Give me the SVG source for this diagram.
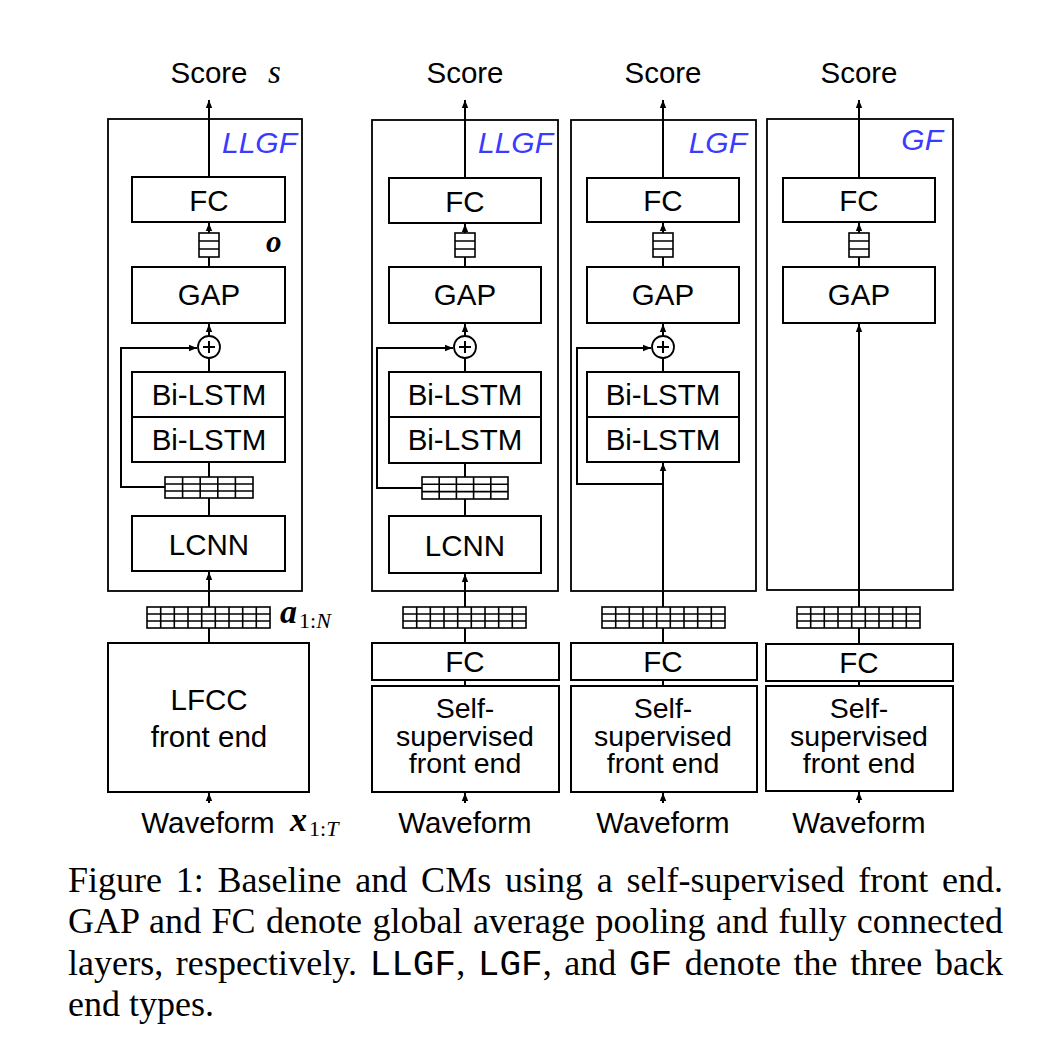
<svg xmlns="http://www.w3.org/2000/svg" width="1055" height="1040" viewBox="0 0 1055 1040">
<defs>
<marker id="ah" viewBox="0 0 10 10" refX="10" refY="5" markerWidth="8" markerHeight="8" markerUnits="userSpaceOnUse" orient="auto"><path d="M0,1 L10,5 L0,9 z" fill="#000"/></marker>
<style>
.box{fill:#fff;stroke:#000;stroke-width:2}
.outer{fill:none;stroke:#000;stroke-width:1.8}
.grid{fill:none;stroke:#000;stroke-width:1.6}
.cn{fill:none;stroke:#000;stroke-width:2}
.ar{fill:none;stroke:#000;stroke-width:2;marker-end:url(#ah)}
.t{font-family:"Liberation Sans",Arial,sans-serif;font-size:29.5px;fill:#000;text-anchor:middle}
.ss{font-size:28.5px}
.tag{font-family:"Liberation Sans",Arial,sans-serif;font-size:30px;font-style:italic;fill:#3b3bff;text-anchor:end}
.m{font-family:"Liberation Serif","Times New Roman",serif;fill:#000}
.it{font-style:italic}
.bi{font-style:italic;font-weight:bold}
.sub{font-size:22px;font-style:normal;font-weight:normal}
.cap{font-family:"Liberation Serif","Times New Roman",serif;font-size:36px;fill:#000}
.mono{font-family:"Liberation Mono","Courier New",monospace}
</style>
</defs>
<rect width="1055" height="1040" fill="#fff"/>

<!-- Column 1: baseline LLGF with LFCC -->
<g id="col1">
<rect class="outer" x="108" y="119" width="194" height="472"/>
<text class="tag" x="297" y="153">LLGF</text>
<text class="t" x="209" y="83">Score</text>
<text class="m it" x="268" y="83" font-size="33">s</text>
<g id="c1-fc"><rect class="box" x="132" y="177" width="153" height="45"/><text class="t" x="209" y="211">FC</text></g>
<g id="c1-o"><rect class="grid" x="199" y="233" width="20" height="24"/><path class="grid" d="M199,241H219M199,249H219"/></g>
<text class="m bi" x="266" y="252" font-size="31">o</text>
<g id="c1-gap"><rect class="box" x="132" y="267" width="153" height="56"/><text class="t" x="209" y="305">GAP</text></g>
<g id="c1-add"><circle cx="209" cy="347" r="11" fill="#fff" stroke="#000" stroke-width="1.8"/><path class="cn" d="M203,347H215M209,341V353" stroke-width="1.8"/></g>
<g id="c1-lstm1"><rect class="box" x="132" y="372" width="153" height="45"/><text class="t" x="209" y="405">Bi-LSTM</text></g>
<g id="c1-lstm2"><rect class="box" x="132" y="417" width="153" height="45"/><text class="t" x="209" y="450">Bi-LSTM</text></g>
<g id="c1-h"><rect class="grid" x="165" y="477" width="88" height="21"/><path class="grid" d="M165,484H253M165,491H253M182.6,477V498M200.2,477V498M217.8,477V498M235.4,477V498"/></g>
<g id="c1-lcnn"><rect class="box" x="132" y="516" width="153" height="55"/><text class="t" x="209" y="555">LCNN</text></g>
<g id="c1-a"><rect class="grid" x="147" y="607" width="123" height="21"/><path class="grid" d="M147,614H270M147,621H270M160.7,607V628M174.3,607V628M188,607V628M201.7,607V628M215.3,607V628M229,607V628M242.7,607V628M256.3,607V628"/></g>
<text class="m bi" x="280" y="623" font-size="34">a</text>
<text class="m sub" x="299" y="628">1:<tspan class="it">N</tspan></text>
<g id="c1-lfcc"><rect class="box" x="108" y="643" width="201" height="149"/><text class="t" x="209" y="710">LFCC</text><text class="t" x="209" y="747">front end</text></g>
<text class="t" x="208" y="833" font-size="29">Waveform</text>
<text class="m bi" x="290" y="831" font-size="34">x</text>
<text class="m sub" x="309" y="836">1:<tspan class="it">T</tspan></text>
</g>

<!-- Column 2: SSL + LLGF -->
<g id="col2">
<rect class="outer" x="372" y="120" width="186" height="471"/>
<text class="tag" x="553" y="153">LLGF</text>
<text class="t" x="465" y="83">Score</text>
<g id="c2-fc"><rect class="box" x="389" y="178" width="152" height="45"/><text class="t" x="465" y="212">FC</text></g>
<g id="c2-o"><rect class="grid" x="455" y="233" width="20" height="24"/><path class="grid" d="M455,241H475M455,249H475"/></g>
<g id="c2-gap"><rect class="box" x="389" y="267" width="152" height="56"/><text class="t" x="465" y="305">GAP</text></g>
<g id="c2-add"><circle cx="465" cy="347" r="11" fill="#fff" stroke="#000" stroke-width="1.8"/><path class="cn" d="M459,347H471M465,341V353" stroke-width="1.8"/></g>
<g id="c2-lstm1"><rect class="box" x="389" y="372" width="152" height="45"/><text class="t" x="465" y="405">Bi-LSTM</text></g>
<g id="c2-lstm2"><rect class="box" x="389" y="417" width="152" height="46"/><text class="t" x="465" y="450">Bi-LSTM</text></g>
<g id="c2-h"><rect class="grid" x="422" y="477" width="86" height="22"/><path class="grid" d="M422,484.3H508M422,491.6H508M439.2,477V499M456.4,477V499M473.6,477V499M490.8,477V499"/></g>
<g id="c2-lcnn"><rect class="box" x="389" y="516" width="152" height="57"/><text class="t" x="465" y="556">LCNN</text></g>
<g id="c2-a"><rect class="grid" x="403" y="607" width="123" height="21"/><path class="grid" d="M403,614H526M403,621H526M416.7,607V628M430.3,607V628M444,607V628M457.7,607V628M471.3,607V628M485,607V628M498.7,607V628M512.3,607V628"/></g>
<g id="c2-fcl"><rect class="box" x="372" y="643" width="187" height="37"/><text class="t" x="465" y="672">FC</text></g>
<g id="c2-ssl"><rect class="box" x="372" y="686" width="187" height="106"/><text class="t ss" x="465" y="718">Self-</text><text class="t ss" x="465" y="746">supervised</text><text class="t ss" x="465" y="773">front end</text></g>
<text class="t" x="465" y="833" font-size="29">Waveform</text>
</g>

<!-- Column 3: SSL + LGF -->
<g id="col3">
<rect class="outer" x="571" y="120" width="185" height="471"/>
<text class="tag" x="747" y="153">LGF</text>
<text class="t" x="663" y="83">Score</text>
<g id="c3-fc"><rect class="box" x="587" y="178" width="152" height="44"/><text class="t" x="663" y="211">FC</text></g>
<g id="c3-o"><rect class="grid" x="653" y="233" width="20" height="24"/><path class="grid" d="M653,241H673M653,249H673"/></g>
<g id="c3-gap"><rect class="box" x="587" y="267" width="152" height="56"/><text class="t" x="663" y="305">GAP</text></g>
<g id="c3-add"><circle cx="663" cy="347" r="11" fill="#fff" stroke="#000" stroke-width="1.8"/><path class="cn" d="M657,347H669M663,341V353" stroke-width="1.8"/></g>
<g id="c3-lstm1"><rect class="box" x="587" y="372" width="152" height="45"/><text class="t" x="663" y="405">Bi-LSTM</text></g>
<g id="c3-lstm2"><rect class="box" x="587" y="417" width="152" height="45"/><text class="t" x="663" y="450">Bi-LSTM</text></g>
<g id="c3-a"><rect class="grid" x="602" y="607" width="123" height="21"/><path class="grid" d="M602,614H725M602,621H725M615.7,607V628M629.3,607V628M643,607V628M656.7,607V628M670.3,607V628M684,607V628M697.7,607V628M711.3,607V628"/></g>
<g id="c3-fcl"><rect class="box" x="571" y="643" width="186" height="37"/><text class="t" x="663" y="672">FC</text></g>
<g id="c3-ssl"><rect class="box" x="571" y="686" width="186" height="106"/><text class="t ss" x="663" y="718">Self-</text><text class="t ss" x="663" y="746">supervised</text><text class="t ss" x="663" y="773">front end</text></g>
<text class="t" x="663" y="833" font-size="29">Waveform</text>
</g>

<!-- Column 4: SSL + GF -->
<g id="col4">
<rect class="outer" x="767" y="119" width="186" height="471"/>
<text class="tag" x="943" y="150">GF</text>
<text class="t" x="859" y="83">Score</text>
<g id="c4-fc"><rect class="box" x="783" y="178" width="152" height="44"/><text class="t" x="859" y="211">FC</text></g>
<g id="c4-o"><rect class="grid" x="849" y="233" width="20" height="24"/><path class="grid" d="M849,241H869M849,249H869"/></g>
<g id="c4-gap"><rect class="box" x="783" y="267" width="152" height="56"/><text class="t" x="859" y="305">GAP</text></g>
<g id="c4-a"><rect class="grid" x="797" y="607" width="123" height="21"/><path class="grid" d="M797,614H920M797,621H920M810.7,607V628M824.3,607V628M838,607V628M851.7,607V628M865.3,607V628M879,607V628M892.7,607V628M906.3,607V628"/></g>
<g id="c4-fcl"><rect class="box" x="766" y="644" width="187" height="37"/><text class="t" x="859" y="673">FC</text></g>
<g id="c4-ssl"><rect class="box" x="766" y="686" width="187" height="105"/><text class="t ss" x="859" y="718">Self-</text><text class="t ss" x="859" y="746">supervised</text><text class="t ss" x="859" y="773">front end</text></g>
<text class="t" x="859" y="833" font-size="29">Waveform</text>
</g>

<!-- Connectors -->
<g id="connectors">
<path class="ar" d="M209,803V793"/>
<path class="cn" d="M209,643V628"/>
<path class="ar" d="M209,607V572"/>
<path class="cn" d="M209,516V498M209,477V462M209,372V358M209,267V257"/>
<path class="ar" d="M209,336V324"/>
<path class="ar" d="M209,233V223"/>
<path class="ar" d="M209,177V100"/>
<path class="ar" d="M165,487H121V348H197"/>

<path class="ar" d="M465,803V793"/>
<path class="cn" d="M465,686V680M465,643V628M465,516V499M465,477V463M465,372V358M465,267V257"/>
<path class="ar" d="M465,607V574"/>
<path class="ar" d="M465,336V324"/>
<path class="ar" d="M465,233V224"/>
<path class="ar" d="M465,178V100"/>
<path class="ar" d="M422,488H377V348H453"/>

<path class="ar" d="M663,803V793"/>
<path class="cn" d="M663,686V680M663,643V628M663,372V358M663,267V257"/>
<path class="ar" d="M663,607V463"/>
<path class="ar" d="M663,336V324"/>
<path class="ar" d="M663,233V223"/>
<path class="ar" d="M663,178V100"/>
<path class="ar" d="M663,484H577V348H651"/>

<path class="ar" d="M859,803V792"/>
<path class="cn" d="M859,686V681M859,644V628M859,267V257"/>
<path class="ar" d="M859,607V324"/>
<path class="ar" d="M859,233V223"/>
<path class="ar" d="M859,178V100"/>
</g>

<!-- Caption -->
<g id="caption">
<text class="cap" x="68" y="892" word-spacing="4.8" textLength="935" lengthAdjust="spacing">Figure 1: Baseline and CMs using a self-supervised front end.</text>
<text class="cap" x="68" y="933" word-spacing="1.3" textLength="935" lengthAdjust="spacing">GAP and FC denote global average pooling and fully connected</text>
<text class="cap" x="68" y="975" word-spacing="3.5" textLength="935" lengthAdjust="spacing">layers, respectively. <tspan class="mono">LLGF</tspan>, <tspan class="mono">LGF</tspan>, and <tspan class="mono">GF</tspan> denote the three back</text>
<text class="cap" x="68" y="1016">end types.</text>
</g>
</svg>
